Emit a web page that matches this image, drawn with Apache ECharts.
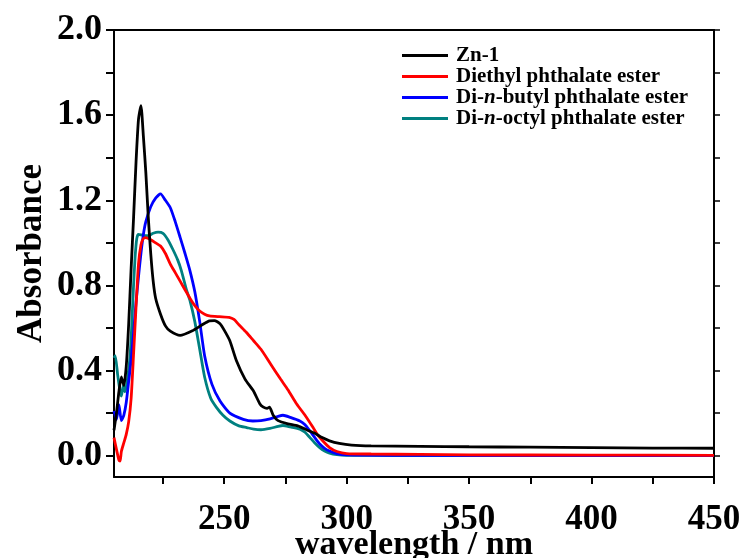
<!DOCTYPE html>
<html>
<head>
<meta charset="utf-8">
<script src="https://cdn.jsdelivr.net/npm/echarts@6/dist/echarts.min.js"></script>
<style>
  html, body { margin: 0; padding: 0; background: #fff; }
  #main { width: 744px; height: 558px; }
</style>
</head>
<body>
<div id="main"></div>
<script>
var seriesNames = ['Zn-1', 'Diethyl phthalate ester', 'Di-n-butyl phthalate ester', 'Di-n-octyl phthalate ester'];
var legendLabels = ['Zn-1', 'Diethyl phthalate ester', 'Di-{i|n}-butyl phthalate ester', 'Di-{i|n}-octyl phthalate ester'];
var colorList = ['#000000', '#ff0000', '#0000ff', '#008080'];

var xTickLabels = [250, 300, 350, 400, 450];
var xTicks = [225, 250, 275, 300, 325, 350, 375, 400, 425, 450];
var yTickLabels = [0, 0.4, 0.8, 1.2, 1.6, 2.0];
var yTicks = [0, 0.2, 0.4, 0.6, 0.8, 1.0, 1.2, 1.4, 1.6, 1.8, 2.0];

var zn1Wl = [205, 206, 207, 208, 209, 210, 211, 212, 213, 214, 215, 216, 217, 218, 219, 220, 221, 222, 224, 226, 228, 232, 237, 241, 244, 246, 248.3, 250, 252.3, 255, 258.5, 261.9, 264.6, 266, 267.5, 268.5, 270, 272, 276, 280, 284, 287, 290, 293, 297, 302, 310, 330, 350, 375, 400, 425, 450];
var zn1Abs = [0.12, 0.2, 0.3, 0.37, 0.33, 0.42, 0.62, 0.88, 1.12, 1.38, 1.58, 1.645, 1.5, 1.33, 1.12, 0.95, 0.82, 0.74, 0.665, 0.61, 0.585, 0.565, 0.587, 0.615, 0.634, 0.635, 0.62, 0.59, 0.54, 0.446, 0.36, 0.305, 0.243, 0.228, 0.222, 0.228, 0.19, 0.165, 0.15, 0.14, 0.12, 0.105, 0.085, 0.07, 0.058, 0.05, 0.046, 0.044, 0.042, 0.04, 0.038, 0.036, 0.035];

var detWl = [205, 206, 207, 207.5, 208, 209, 210, 211, 212, 213, 214, 215, 216, 217, 218, 220, 222, 224, 226, 228, 230, 232, 234, 236, 238, 240, 242, 244, 248, 252, 254, 256, 259, 262, 265, 269, 273, 276, 279.6, 283, 286.3, 288, 290.3, 293, 296, 300, 310, 330, 350, 400, 450];
var detAbs = [0.085, 0.03, -0.02, -0.025, 0.02, 0.06, 0.1, 0.16, 0.27, 0.48, 0.7, 0.9, 0.99, 1.02, 1.025, 1.015, 1.0, 0.985, 0.95, 0.9, 0.86, 0.82, 0.78, 0.74, 0.705, 0.68, 0.665, 0.657, 0.653, 0.65, 0.64, 0.615, 0.58, 0.54, 0.5, 0.43, 0.36, 0.31, 0.243, 0.19, 0.132, 0.1, 0.069, 0.038, 0.02, 0.01, 0.008, 0.006, 0.004, 0.003, 0.002];

var dbpWl = [205, 206, 207, 208, 209, 210, 211, 212, 213, 214, 215, 216, 217, 218, 220, 222, 224, 226, 228, 230, 232, 234, 236, 238, 240, 242, 245, 248.3, 252.3, 257.8, 261.7, 265, 268.7, 272, 274, 277, 280.9, 283, 285, 287, 289, 291, 293, 296, 300, 320, 450];
var dbpAbs = [0.21, 0.17, 0.24, 0.165, 0.19, 0.25, 0.35, 0.45, 0.58, 0.72, 0.84, 0.95, 1.04, 1.1, 1.17, 1.21, 1.23, 1.2, 1.165, 1.1, 1.026, 0.95, 0.87, 0.77, 0.63, 0.47, 0.335, 0.257, 0.2, 0.171, 0.163, 0.165, 0.173, 0.185, 0.19, 0.18, 0.163, 0.145, 0.116, 0.085, 0.055, 0.035, 0.022, 0.01, 0.004, 0.002, 0.0];

var dopWl = [205, 205.5, 206.5, 207.5, 208, 208.8, 209.5, 210.5, 211.5, 212.2, 212.9, 213.6, 214.3, 215, 217, 219, 221, 223, 225, 227, 229, 231, 232.5, 234.7, 236, 238, 240, 242, 244.5, 246.9, 249.5, 252.3, 256, 259.2, 262, 265, 268.7, 272, 274, 277, 280.9, 283, 285, 287, 289, 291, 293, 296, 300, 320, 450];
var dopAbs = [0.46, 0.47, 0.38, 0.3, 0.28, 0.33, 0.3, 0.36, 0.46, 0.6, 0.78, 0.93, 1.02, 1.04, 1.035, 1.034, 1.045, 1.05, 1.045, 1.015, 0.97, 0.92, 0.87, 0.775, 0.73, 0.63, 0.5, 0.37, 0.27, 0.226, 0.19, 0.163, 0.14, 0.132, 0.125, 0.122, 0.128, 0.138, 0.142, 0.135, 0.125, 0.11, 0.085, 0.06, 0.038, 0.022, 0.012, 0.005, 0.002, 0.001, 0.0];

function pairs(xs, ys) {
    var out = [];
    for (var i = 0; i < xs.length; i++) {
        out.push([xs[i], ys[i]]);
    }
    return out;
}

var allWl = [zn1Wl, detWl, dbpWl, dopWl];
var allAbs = [zn1Abs, detAbs, dbpAbs, dopAbs];

var myChart = echarts.init(document.getElementById('main'));

var fontName = 'Liberation Serif';

var series = [];
for (var i = 0; i < seriesNames.length; i++) {
    series.push({
        name: seriesNames[i],
        type: 'line',
        xAxisIndex: 0,
        yAxisIndex: 0,
        data: pairs(allWl[i], allAbs[i]),
        symbol: 'none',
        smooth: 0.2,
        lineStyle: { width: 2.8, color: colorList[i] },
        itemStyle: { color: colorList[i] },
        z: 10 - i
    });
}

var option = {
    backgroundColor: '#fff',
    animation: false,
    grid: { left: 114, right: 30, top: 30, bottom: 81, outerBoundsMode: 'none' },
    legend: {
        orient: 'vertical',
        left: 402,
        top: 45,
        padding: 0,
        itemGap: 0,
        itemWidth: 46,
        itemHeight: 3,
        icon: 'rect',
        data: seriesNames,
        formatter: function (name) {
            return legendLabels[seriesNames.indexOf(name)];
        },
        textStyle: {
            fontFamily: fontName,
            fontWeight: 'bold',
            fontSize: 21,
            color: '#000',
            lineHeight: 19.5,
            padding: [0, 0, 0, 3],
            rich: {
                i: { fontFamily: fontName, fontWeight: 'bold', fontStyle: 'italic', fontSize: 21, lineHeight: 19.5 }
            }
        }
    },
    xAxis: [
        {
            type: 'value',
            min: 205,
            max: 450,
            name: 'wavelength / nm',
            nameLocation: 'middle',
            nameGap: 51,
            nameMoveOverlap: false,
            nameTextStyle: { fontFamily: fontName, fontWeight: 'bold', fontSize: 34, color: '#000' },
            splitLine: { show: false },
            axisLine: { show: true, onZero: false, lineStyle: { color: '#000', width: 2 } },
            axisTick: { show: true, length: 7, lineStyle: { color: '#000', width: 2 }, customValues: xTicks },
            axisLabel: {
                margin: 25,
                fontFamily: fontName, fontWeight: 'bold', fontSize: 35, color: '#000',
                customValues: xTickLabels
            }
        },
        {
            type: 'value',
            position: 'top',
            min: 205,
            max: 450,
            splitLine: { show: false },
            axisLine: { show: true, onZero: false, lineStyle: { color: '#000', width: 2 } },
            axisTick: { show: false },
            axisLabel: { show: false }
        }
    ],
    yAxis: [
        {
            type: 'value',
            min: -0.1,
            max: 2.0,
            name: 'Absorbance',
            nameLocation: 'middle',
            nameGap: 65,
            nameMoveOverlap: false,
            nameTextStyle: { fontFamily: fontName, fontWeight: 'bold', fontSize: 35, color: '#000' },
            splitLine: { show: false },
            axisLine: { show: true, onZero: false, lineStyle: { color: '#000', width: 2 } },
            axisTick: { show: true, length: 8, lineStyle: { color: '#000', width: 2 }, customValues: yTicks },
            axisLabel: {
                margin: 12,
                fontFamily: fontName, fontWeight: 'bold', fontSize: 36, color: '#000',
                customValues: yTickLabels,
                formatter: function (v) { return v.toFixed(1); }
            }
        },
        {
            type: 'value',
            position: 'right',
            min: -0.1,
            max: 2.0,
            splitLine: { show: false },
            axisLine: { show: true, onZero: false, lineStyle: { color: '#000', width: 2 } },
            axisTick: { show: true, length: 6, lineStyle: { color: '#000', width: 1.5 }, customValues: yTicks },
            axisLabel: { show: false }
        }
    ],
    series: series
};

myChart.setOption(option);
</script>
</body>
</html>
